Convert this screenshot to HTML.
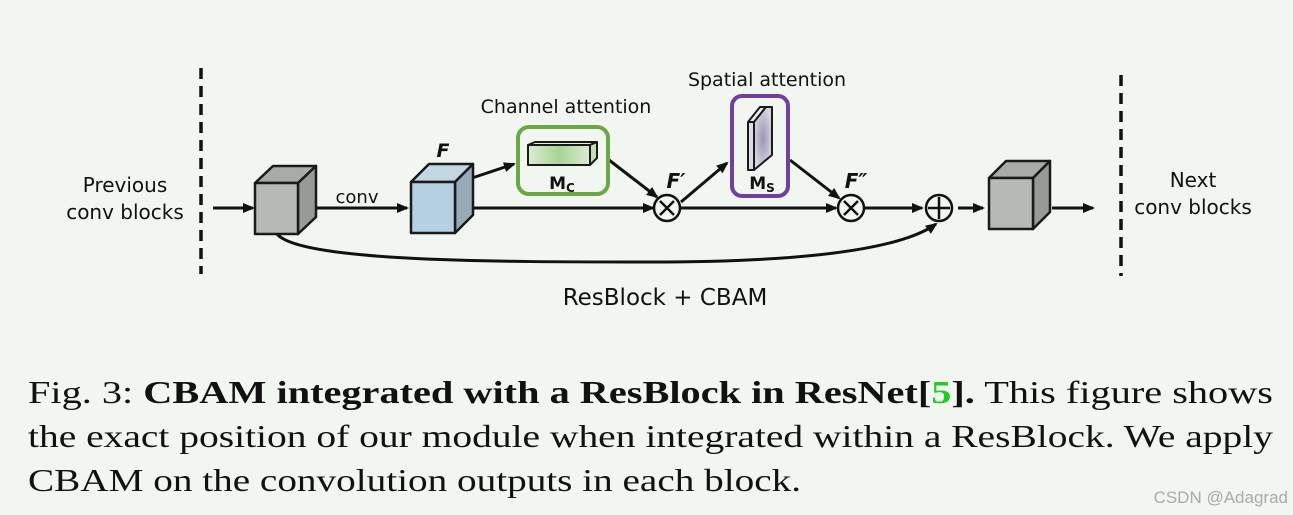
<!DOCTYPE html>
<html><head><meta charset="utf-8"><style>
html,body{margin:0;padding:0;background:#f1f6f0;}
svg{display:block}
.s{font-family:"DejaVu Sans","Liberation Sans",sans-serif;fill:#111}
.r{font-family:"Liberation Serif",serif;fill:#111;font-size:32px}
</style></head><body>
<svg width="1293" height="515" viewBox="0 0 1293 515" xmlns="http://www.w3.org/2000/svg">
<defs>
<marker id="a" markerWidth="12" markerHeight="10" refX="10" refY="5" orient="auto" markerUnits="userSpaceOnUse"><path d="M0,0 L12,5 L0,10 z" fill="#111"/></marker>
<linearGradient id="g" x1="0" x2="1"><stop offset="0" stop-color="#dcebd2"/><stop offset="0.5" stop-color="#a8d494"/><stop offset="1" stop-color="#dcebd2"/></linearGradient>
<radialGradient id="p"><stop offset="0" stop-color="#9d94b8"/><stop offset="1" stop-color="#d4d2dc"/></radialGradient>
</defs>
<rect width="1293" height="515" fill="#f1f6f0"/>
<g stroke="#111" stroke-width="3.5" stroke-dasharray="11,7"><line x1="201" y1="68" x2="201" y2="274"/><line x1="1121" y1="75" x2="1121" y2="276"/></g>
<text class="s" x="125" y="192" font-size="20" text-anchor="middle">Previous</text>
<text class="s" x="125" y="219" font-size="20" text-anchor="middle">conv blocks</text>
<text class="s" x="1193" y="187" font-size="20" text-anchor="middle">Next</text>
<text class="s" x="1193" y="214" font-size="20" text-anchor="middle">conv blocks</text>
<g stroke="#111" stroke-width="3" fill="none" marker-end="url(#a)">
<line x1="213" y1="208" x2="253" y2="208"/>
<line x1="316" y1="208" x2="407" y2="208"/>
<line x1="473" y1="208" x2="653" y2="208"/>
<line x1="472" y1="178" x2="514" y2="164"/>
<line x1="609" y1="160" x2="657" y2="197"/>
<line x1="681" y1="202" x2="727" y2="163"/>
<line x1="681" y1="208" x2="836" y2="208"/>
<line x1="790" y1="160" x2="839" y2="198"/>
<line x1="865" y1="208" x2="922" y2="208"/>
<line x1="958" y1="208" x2="983" y2="208"/>
<line x1="1052" y1="208" x2="1093" y2="208"/>
<path d="M277,234 C300,262 500,262 650,262 C800,262 900,250 936,224"/>
</g>
<g stroke="#1a1a1a" stroke-width="2.5" stroke-linejoin="round">
<path d="M255,183 L273,166 L316,166 L298,183 z" fill="#a9aca6"/>
<path d="M298,183 L316,166 L316,217 L298,234 z" fill="#979b95"/>
<rect x="255" y="183" width="43" height="51" fill="#b6bab4"/>
<path d="M411,182 L429,164 L473,164 L455,182 z" fill="#c3d7e3"/>
<path d="M455,182 L473,164 L473,215 L455,233 z" fill="#97aab5"/>
<rect x="411" y="182" width="44" height="51" fill="#b5d0e2"/>
<path d="M989,178 L1006,161 L1050,161 L1033,178 z" fill="#a9aca6"/>
<path d="M1033,178 L1050,161 L1050,212 L1033,229 z" fill="#979b95"/>
<rect x="989" y="178" width="44" height="51" fill="#b6bab4"/>
</g>
<text class="s" x="357" y="203" font-size="18" text-anchor="middle">conv</text>
<text class="s" x="443" y="157" font-size="19" font-weight="bold" font-style="italic" text-anchor="middle">F</text>
<text class="s" x="566" y="113" font-size="19" text-anchor="middle">Channel attention</text>
<rect x="518" y="127" width="90" height="67" rx="11" fill="none" stroke="#6aa845" stroke-width="4"/>
<g stroke="#1a1a1a" stroke-width="2" stroke-linejoin="round">
<path d="M528,145 L535,142 L597,142 L590,145 z" fill="#e2efda"/>
<path d="M590,145 L597,142 L597,158 L590,165 z" fill="#c5dcb8"/>
<rect x="528" y="145" width="62" height="20" fill="url(#g)"/>
</g>
<text class="s" x="562" y="189" font-size="17" font-weight="bold" text-anchor="middle">M<tspan font-size="12" dy="3">C</tspan></text>
<text class="s" x="767" y="86" font-size="19" text-anchor="middle">Spatial attention</text>
<rect x="732" y="96" width="56" height="100" rx="10" fill="none" stroke="#7040a0" stroke-width="4"/>
<g stroke="#1a1a1a" stroke-width="2" stroke-linejoin="round">
<path d="M748,122 L760,107 L766,107 L754,122 z" fill="#eeeef2"/>
<path d="M754,122 L766,107 L772,107 L772,155 L754,170 z" fill="url(#p)"/>
<rect x="748" y="122" width="6" height="48" fill="#dcdbe6"/>
</g>
<text class="s" x="762" y="189" font-size="17" font-weight="bold" text-anchor="middle">M<tspan font-size="12" dy="3">S</tspan></text>
<g stroke="#111" stroke-width="2.5" fill="#f1f6f0">
<circle cx="667" cy="208" r="13"/><circle cx="851" cy="208" r="13"/><circle cx="939" cy="208" r="13"/>
</g>
<g stroke="#111" stroke-width="2.5">
<path d="M660,201 L674,215 M674,201 L660,215"/>
<path d="M844,201 L858,215 M858,201 L844,215"/>
<path d="M939,197 L939,219 M928,208 L950,208"/>
</g>
<text class="s" x="676" y="188" font-size="20" font-weight="bold" font-style="italic" text-anchor="middle">F′</text>
<text class="s" x="856" y="188" font-size="20" font-weight="bold" font-style="italic" text-anchor="middle">F″</text>
<text class="s" x="665" y="305" font-size="23" text-anchor="middle">ResBlock + CBAM</text>
<text class="r" x="28" y="403" textLength="1245" lengthAdjust="spacingAndGlyphs">Fig. 3: <tspan font-weight="bold">CBAM integrated with a ResBlock in ResNet[<tspan fill="#22cc22">5</tspan>].</tspan> This figure shows</text>
<text class="r" x="28" y="447" textLength="1245" lengthAdjust="spacingAndGlyphs">the exact position of our module when integrated within a ResBlock. We apply</text>
<text class="r" x="28" y="491" textLength="773" lengthAdjust="spacingAndGlyphs">CBAM on the convolution outputs in each block.</text>
<text x="1288" y="503" font-family="Liberation Sans,sans-serif" font-size="17" fill="#aaaaaa" text-anchor="end">CSDN @Adagrad</text>
</svg>
</body></html>
